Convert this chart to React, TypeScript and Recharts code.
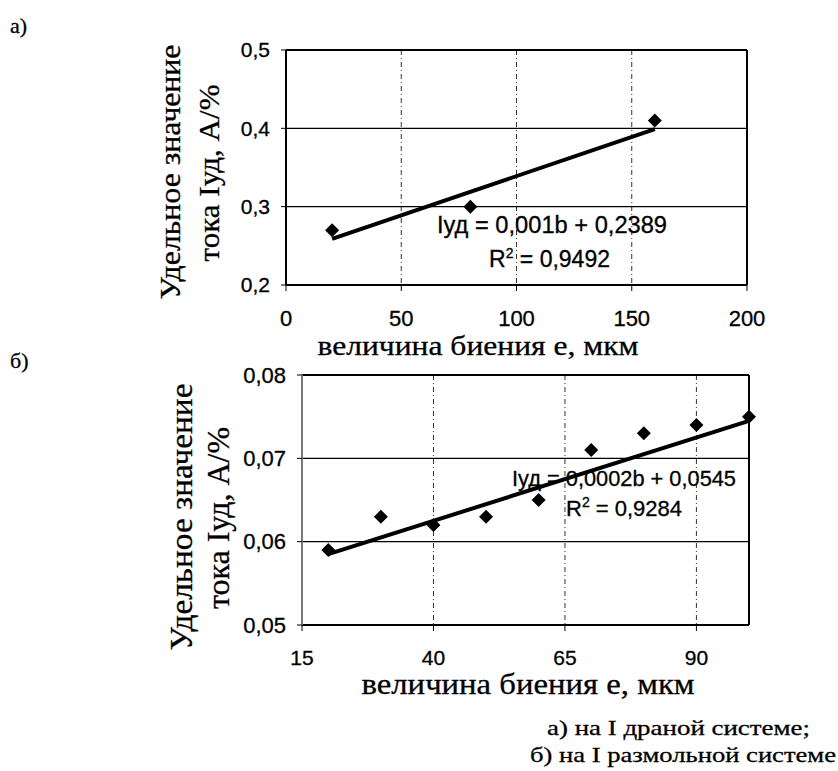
import React from 'react';
import { ScatterChart, Scatter, XAxis, YAxis, CartesianGrid, ReferenceLine } from 'recharts';

// график а) — I драная система
const aX = [20, 80, 160];
const aY = [0.27, 0.3, 0.41];
const aTrendX = [20, 160];
const aTrendY = [0.259, 0.399];
const aXTicks = [0, 50, 100, 150, 200];
const aYTicks = [0.2, 0.3, 0.4, 0.5];

// график б) — I размольная система
const bX = [20, 30, 40, 50, 60, 70, 80, 90, 100];
const bY = [0.059, 0.063, 0.062, 0.063, 0.065, 0.071, 0.073, 0.074, 0.075];
const bTrendX = [20, 100];
const bTrendY = [0.0585, 0.0745];
const bXTicks = [15, 40, 65, 90];
const bYTicks = [0.05, 0.06, 0.07, 0.08];

const toPts = (xs: number[], ys: number[]) => xs.map((x, i) => ({ x, y: ys[i] }));
const comma = (v: number) => String(v).replace('.', ',');

const SANS = 'Liberation Sans, Arial, sans-serif';
const SERIF = 'Liberation Serif, Times New Roman, serif';

const Y_W = 60; // ширина оси Y
const X_H = 40; // высота оси X

const Diamond = (props: any) => {
    const { cx, cy } = props;
    if (cx == null || cy == null) return <g />;
    const r = 7;
    return <polygon points={`${cx},${cy - r} ${cx + r},${cy} ${cx},${cy + r} ${cx - r},${cy}`} fill="#000" />;
};

const NoDot = () => <g />;

// plot: прямоугольник области построения в пикселях страницы
function Panel({ pts, trend, xTicks, yTicks, xDomain, yDomain, plot, xFont, yFont, xTickMargin, leftAxisColor }: any) {
    const margin = {
        top: plot.top,
        left: plot.left - Y_W,
        right: 838 - plot.right,
        bottom: 771 - plot.bottom - X_H,
    };
    return (
        <ScatterChart width={838} height={771} margin={margin}>
            <CartesianGrid horizontal={false} stroke="#333" strokeDasharray="5 3 1 3" />
            <CartesianGrid vertical={false} stroke="#000" strokeWidth={1.2} />
            <XAxis
                type="number"
                dataKey="x"
                domain={xDomain}
                ticks={xTicks}
                height={X_H}
                tickSize={6}
                tickMargin={xTickMargin}
                axisLine={{ stroke: '#000', strokeWidth: 2 }}
                tickLine={{ stroke: '#000' }}
                tick={{ fill: '#000', fontSize: xFont, fontFamily: SANS, stroke: '#000', strokeWidth: 0.3 }}
            />
            <YAxis
                type="number"
                dataKey="y"
                domain={yDomain}
                ticks={yTicks}
                width={Y_W}
                tickSize={5}
                tickMargin={11}
                tickFormatter={comma}
                axisLine={{ stroke: leftAxisColor, strokeWidth: 2 }}
                tickLine={{ stroke: '#000' }}
                tick={{ fill: '#000', fontSize: yFont, fontFamily: SANS, stroke: '#000', strokeWidth: 0.3 }}
            />
            <ReferenceLine y={yDomain[1]} stroke="#000" strokeWidth={2} />
            <ReferenceLine x={xDomain[1]} stroke="#000" strokeWidth={2} />
            <Scatter data={trend} line={{ stroke: '#000', strokeWidth: 4 }} shape={NoDot} isAnimationActive={false} />
            <Scatter data={pts} shape={Diamond} isAnimationActive={false} />
        </ScatterChart>
    );
}

export default function App() {
    return (
        <div style={{ position: 'absolute', left: 0, top: 0, width: 838, height: 771, background: '#fff', overflow: 'hidden' }}>
            <div style={{ position: 'absolute', left: 0, top: 0 }}>
                <Panel
                    pts={toPts(aX, aY)}
                    trend={toPts(aTrendX, aTrendY)}
                    xTicks={aXTicks}
                    yTicks={aYTicks}
                    xDomain={[0, 200]}
                    yDomain={[0.2, 0.5]}
                    plot={{ left: 286, right: 747, top: 50, bottom: 285 }}
                    xFont={22}
                    yFont={21}
                    xTickMargin={19}
                    leftAxisColor="#000"
                />
            </div>
            <div style={{ position: 'absolute', left: 0, top: 0 }}>
                <Panel
                    pts={toPts(bX, bY)}
                    trend={toPts(bTrendX, bTrendY)}
                    xTicks={bXTicks}
                    yTicks={bYTicks}
                    xDomain={[15, 100]}
                    yDomain={[0.05, 0.08]}
                    plot={{ left: 302, right: 749, top: 375, bottom: 625 }}
                    xFont={21}
                    yFont={22}
                    xTickMargin={19}
                    leftAxisColor="#777"
                />
            </div>
            <svg width={838} height={771} style={{ position: 'absolute', left: 0, top: 0, pointerEvents: 'none' }}>
                <g fill="#000" fontFamily={SERIF} stroke="#000" strokeWidth={0.3}>
                    <text x={10} y={33} fontSize={22}>а)</text>
                    <text x={10} y={368} fontSize={22}>б)</text>

                    <text x={180} y={172} fontSize={30} textAnchor="middle" transform="rotate(-90 180 172)" textLength={255} lengthAdjust="spacingAndGlyphs">Удельное значение</text>
                    <text x={219} y={173} fontSize={30} textAnchor="middle" transform="rotate(-90 219 173)" textLength={177} lengthAdjust="spacingAndGlyphs">тока Iуд, А/%</text>
                    <text x={478} y={355} fontSize={27} textAnchor="middle" textLength={321} lengthAdjust="spacingAndGlyphs">величина биения е, мкм</text>

                    <text x={192} y={517} fontSize={31} textAnchor="middle" transform="rotate(-90 192 517)" textLength={267} lengthAdjust="spacingAndGlyphs">Удельное значение</text>
                    <text x={229} y={518} fontSize={31} textAnchor="middle" transform="rotate(-90 229 518)" textLength={182} lengthAdjust="spacingAndGlyphs">тока Iуд, А/%</text>
                    <text x={528} y={694} fontSize={29} textAnchor="middle" textLength={333} lengthAdjust="spacingAndGlyphs">величина биения е, мкм</text>

                    <text x={547} y={735} fontSize={22} textLength={263} lengthAdjust="spacingAndGlyphs">а) на I драной системе;</text>
                    <text x={530} y={762} fontSize={22} textLength={306} lengthAdjust="spacingAndGlyphs">б) на I размольной системе</text>
                </g>
                <g fill="#000" fontFamily={SANS} stroke="#000" strokeWidth={0.3}>
                    <text x={437} y={233} fontSize={23} textLength={230} lengthAdjust="spacingAndGlyphs">Iуд = 0,001b + 0,2389</text>
                    <text x={489} y={267} fontSize={23}>
                        R<tspan fontSize={14} dy={-9}>2</tspan><tspan dy={9}> = 0,9492</tspan>
                    </text>
                    <text x={512} y={486} fontSize={22} textLength={224} lengthAdjust="spacingAndGlyphs">Iуд = 0,0002b + 0,0545</text>
                    <text x={566} y={516} fontSize={22}>
                        R<tspan fontSize={14} dy={-9}>2</tspan><tspan dy={9}> = 0,9284</tspan>
                    </text>
                </g>
            </svg>
        </div>
    );
}
